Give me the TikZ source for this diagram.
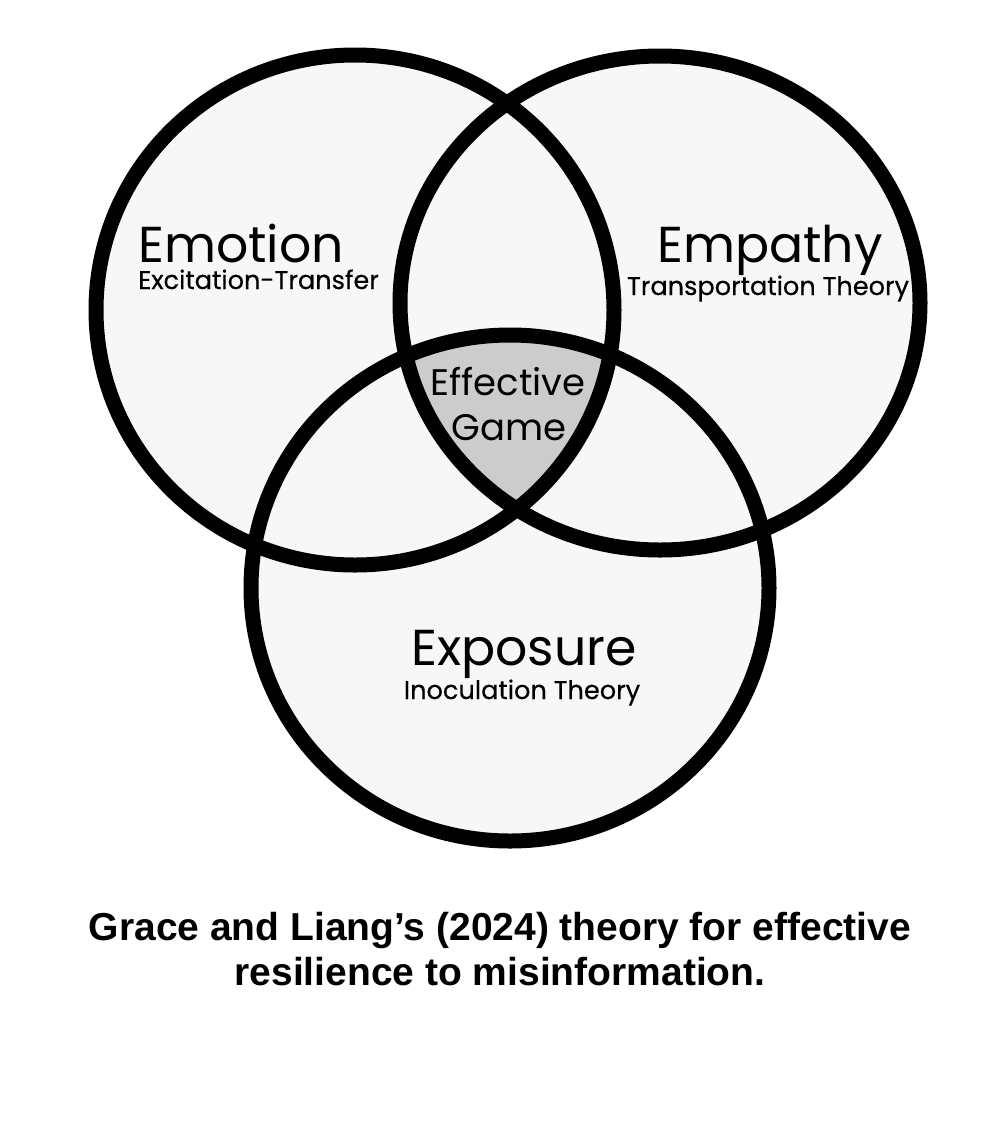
\documentclass[tikz,border=0pt]{standalone}
\usepackage{fontspec}
\setmainfont{Poppins}
\newfontfamily\theoryfont[FakeBold=0.4]{Poppins}
\newfontfamily\capfont{Liberation Sans}
\definecolor{setfill}{HTML}{F7F7F7}
\definecolor{corefill}{HTML}{CCCCCC}
\tikzset{
	ring/.style={draw=black, line width=15pt},
	setname/.style={inner sep=0pt, font=\fontsize{50.5}{50}\selectfont},
	theory/.style={inner sep=0pt, font=\theoryfont\fontsize{25.6}{26}\selectfont},
	corename/.style={inner sep=0pt, font=\fontsize{37}{37}\selectfont},
	caption/.style={inner sep=0pt, font=\capfont\bfseries\fontsize{39}{45}\selectfont}
}
\begin{document}
\begin{tikzpicture}[x=1pt,y=-1pt]
	\useasboundingbox[fill=white] (0,0) rectangle (1000,1136);
	% light sets
	\fill [setfill] (355,310) ellipse [x radius=259, y radius=255];
	\fill [setfill] (660,303) ellipse [x radius=260, y radius=247];
	\fill [setfill] (510,588) ellipse [x radius=259, y radius=253];
	% common part of all three
	\begin{scope}
		\clip (355,310) ellipse [x radius=259, y radius=255];
		\clip (660,303) ellipse [x radius=260, y radius=247];
		\fill [corefill] (510,588) ellipse [x radius=259, y radius=253];
	\end{scope}
	\draw [ring] (355,310) ellipse [x radius=259, y radius=255];
	\draw [ring] (660,303) ellipse [x radius=260, y radius=247];
	\draw [ring] (510,588) ellipse [x radius=259, y radius=253];
	% labels
	\node [setname, anchor=base west] (emotion) at (138,262) {Emotion};
	\node [theory, anchor=base west] (excite) at (138,289) {Excitation-Transfer};
	\node [setname, anchor=base] (empathy) at (770,262) {Empathy};
	\node [theory, anchor=base] (transport) at (768,295) {Transportation Theory};
	\node [corename, anchor=base] (effective) at (508,395) {Effective};
	\node [corename, anchor=base] (game) at (509,440) {Game};
	\node [setname, anchor=base] (exposure) at (524,665) {Exposure};
	\node [theory, anchor=base] (inoc) at (522,699) {Inoculation Theory};
	\node [caption, anchor=base] (capA) at (500,940) {Grace and Liang’s (2024) theory for effective};
	\node [caption, anchor=base] (capB) at (500,985) {resilience to misinformation.};
\end{tikzpicture}
\end{document}
